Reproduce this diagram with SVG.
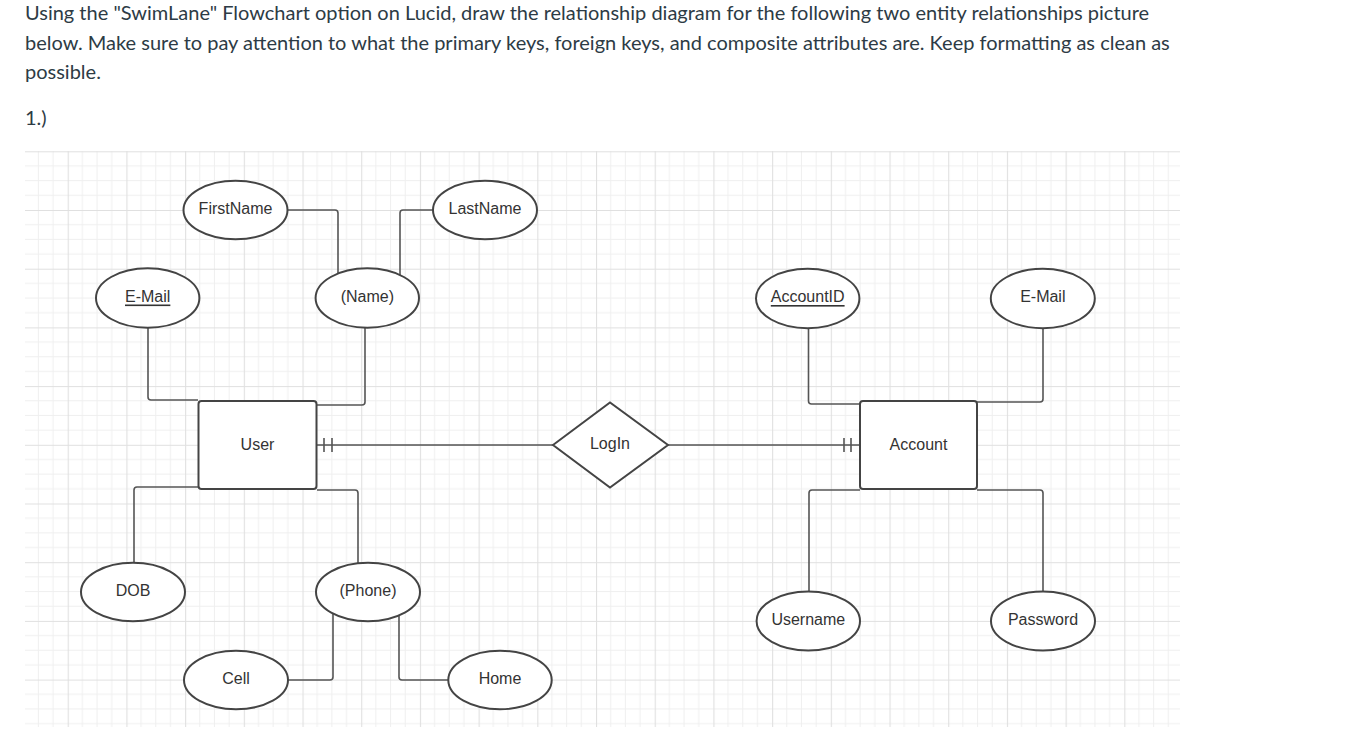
<svg xmlns="http://www.w3.org/2000/svg" width="1364" height="746" viewBox="0 0 1364 746">
<style>
.hdr{font-family:Lato,"Liberation Sans",sans-serif;font-size:20px;fill:#2d3b45}
.lbl{font-family:"Liberation Sans",Arial,sans-serif;font-size:16px;fill:#333;text-anchor:middle;dominant-baseline:central}
.u{text-decoration:underline}
.shape{fill:#fff;stroke:#444;stroke-width:2}
.conn path{fill:none;stroke:#555;stroke-width:1.6;stroke-linejoin:round}
</style>
<defs>
<pattern id="grid" patternUnits="userSpaceOnUse" x="67.7" y="151.3" width="58.7" height="58.7">
<path d="M14.675 0V58.7M29.35 0V58.7M44.025 0V58.7M0 14.675H58.7M0 29.35H58.7M0 44.025H58.7" stroke="#efefef" stroke-width="1" fill="none"/>
<path d="M0.5 0V58.7M0 0.5H58.7" stroke="#e0e0e0" stroke-width="1.2" fill="none"/>
</pattern>
</defs>
<rect width="1364" height="746" fill="#fff"/>
<text class="hdr" x="25" y="20">Using the "SwimLane" Flowchart option on Lucid, draw the relationship diagram for the following two entity relationships picture</text>
<text class="hdr" x="25" y="50">below. Make sure to pay attention to what the primary keys, foreign keys, and composite attributes are. Keep formatting as clean as</text>
<text class="hdr" x="25" y="79">possible.</text>
<text class="hdr" x="25" y="125">1.)</text>
<rect x="25" y="151" width="1155" height="576" fill="url(#grid)"/>
<g class="conn" id="connectors">
<path d="M148 328V397Q148 400 151 400H198"/>
<path d="M365 328V402Q365 405 362 405H317"/>
<path d="M288 210H335Q338 210 338 213V274"/>
<path d="M433 210H403Q400 210 400 213V276"/>
<path d="M198 487H137Q134 487 134 490V563"/>
<path d="M317 490H355Q358 490 358 493V563"/>
<path d="M288 680H330Q333 680 333 677V613"/>
<path d="M399 616V677Q399 680 402 680H448"/>
<path d="M317 445H553"/>
<path d="M324 438V452M332 438V452"/>
<path d="M668 445H860"/>
<path d="M844 438V452M851 438V452"/>
<path d="M808.5 328V401Q808.5 404 811.5 404H860"/>
<path d="M1043 328V399Q1043 402 1040 402H977"/>
<path d="M860 490H812Q809 490 809 493V592"/>
<path d="M977 490H1040Q1043 490 1043 493V592"/>
</g>
<g id="firstname"><ellipse class="shape" cx="235.5" cy="210" rx="52" ry="29.3"/><text class="lbl" x="235.5" y="208">FirstName</text></g>
<g id="lastname"><ellipse class="shape" cx="485" cy="210" rx="52" ry="29.3"/><text class="lbl" x="485" y="208">LastName</text></g>
<g id="email-user"><ellipse class="shape" cx="147.7" cy="298" rx="51.7" ry="29.7"/><text class="lbl u" x="147.7" y="296">E-Mail</text></g>
<g id="name"><ellipse class="shape" cx="367.3" cy="298" rx="51.7" ry="29.7"/><text class="lbl" x="367.3" y="296">(Name)</text></g>
<g id="user"><rect class="shape" x="198.5" y="401" width="118" height="88" rx="3"/><text class="lbl" x="257.5" y="444">User</text></g>
<g id="login"><path class="shape" d="M553 445L610 402.5L668 445L610 487.5Z"/><text class="lbl" x="610" y="443">LogIn</text></g>
<g id="account"><rect class="shape" x="860" y="401" width="117" height="88" rx="3"/><text class="lbl" x="918.5" y="444">Account</text></g>
<g id="accountid"><ellipse class="shape" cx="807.7" cy="298.5" rx="51.7" ry="29.7"/><text class="lbl u" x="807.7" y="296.5">AccountID</text></g>
<g id="email-account"><ellipse class="shape" cx="1042.8" cy="298.5" rx="52" ry="29.7"/><text class="lbl" x="1042.8" y="296.5">E-Mail</text></g>
<g id="dob"><ellipse class="shape" cx="133" cy="592" rx="52" ry="29.2"/><text class="lbl" x="133" y="590">DOB</text></g>
<g id="phone"><ellipse class="shape" cx="368" cy="592" rx="52" ry="29.2"/><text class="lbl" x="368" y="590">(Phone)</text></g>
<g id="cell"><ellipse class="shape" cx="236" cy="680" rx="52" ry="29.3"/><text class="lbl" x="236" y="678">Cell</text></g>
<g id="home"><ellipse class="shape" cx="500" cy="680" rx="51.7" ry="29.3"/><text class="lbl" x="500" y="678">Home</text></g>
<g id="username"><ellipse class="shape" cx="808.3" cy="621" rx="51.7" ry="29.5"/><text class="lbl" x="808.3" y="619">Username</text></g>
<g id="password"><ellipse class="shape" cx="1043" cy="621" rx="52" ry="29.5"/><text class="lbl" x="1043" y="619">Password</text></g>
</svg>
